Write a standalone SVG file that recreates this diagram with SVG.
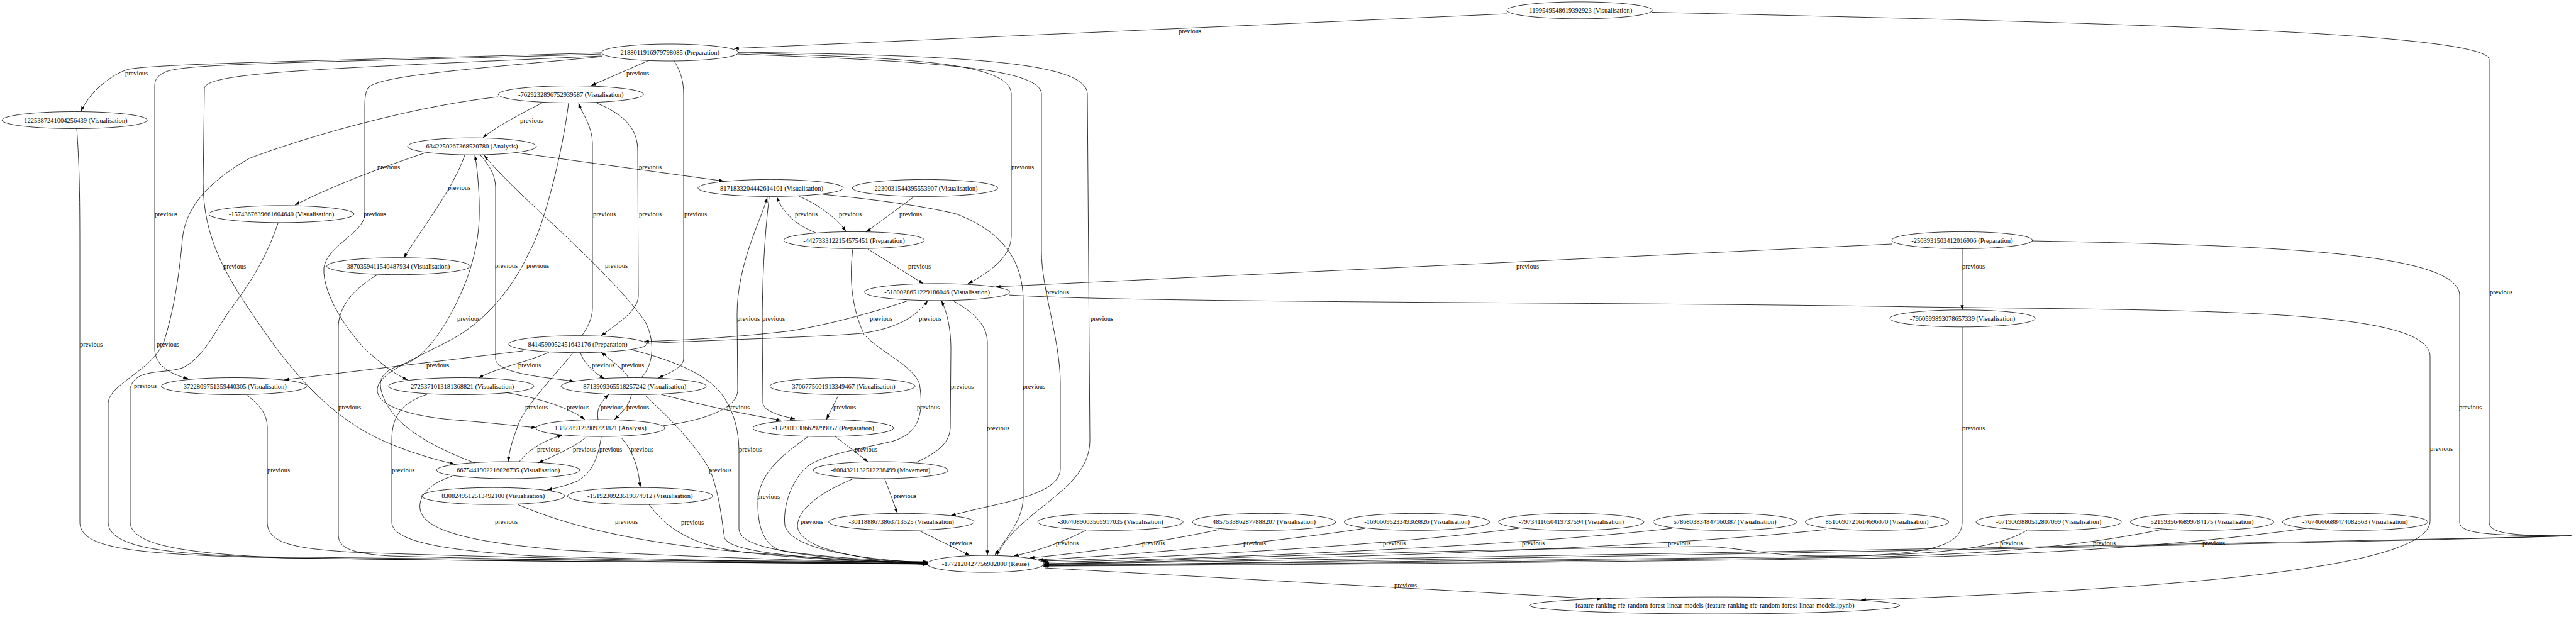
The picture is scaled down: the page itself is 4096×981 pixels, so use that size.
<svg xmlns="http://www.w3.org/2000/svg" width="4096" height="981" viewBox="0 0 4096 981">
<defs>
<marker id="ah" viewBox="0 0 10 7" refX="10" refY="3.5" markerWidth="7.7" markerHeight="5.4" orient="auto" markerUnits="userSpaceOnUse"><path d="M0,0 L10,3.5 L0,7 z" fill="#000"/></marker>
<style>
.n ellipse{fill:none;stroke:#000;stroke-width:0.8}
.n text,.lb text{font-family:"Liberation Serif","Times New Roman",serif;font-size:10.5px;fill:#000;text-anchor:middle}
.e path{fill:none;stroke:#000;stroke-width:0.8;marker-end:url(#ah)}
</style>
</defs>
<rect width="4096" height="981" fill="#fff"/>
<g id="connectors" class="e">
<path d="M2396,22 L1167,77"/>
<path d="M2627,19.5 C3300,35 3958,50 3958,95 L3958,830 C3958,848 3990,852 4090,852 C3800,860 2400,885 1660,897"/>
<path d="M3231,383 C3600,390 3911,400 3911,470 L3911,830 C3911,848 3950,852 4088,852 C3800,862 2400,888 1659,900"/>
<path d="M3120,520 L3120,830 C3120,870 3060,884 2900,884 C2800,884 2760,868 2700,869 C2300,874 1900,888 1660,898"/>
<path d="M1727,843 C1690,862 1650,876 1612,884"/>
<path d="M1938,842 C1850,862 1700,882 1637,887"/>
<path d="M2171,840 C2000,866 1780,884 1651,890"/>
<path d="M2415,840 C2200,868 1850,887 1656,892"/>
<path d="M2659,840 C2400,870 1900,889 1659,894"/>
<path d="M2903,842 C2600,875 2000,891 1660,896"/>
<path d="M3223,843 C3180,870 3100,880 2950,884 C2500,890 1950,896 1660,898"/>
<path d="M3437,842 C3300,870 3150,882 2950,886 C2500,892 1950,898 1660,899"/>
<path d="M3668,840 C3450,870 3200,884 2950,888 C2500,894 1950,899 1659,900"/>
<path d="M1661,903 L2547,952.5"/>
<path d="M1604,469 C1800,482 2600,480 3050,488 C3500,494 3864,490 3864,567 L3864,828 C3864,900 3500,935 2959,954"/>
<path d="M956,84 C600,95 260,100 205,110 C175,118 140,150 129,177"/>
<path d="M1032,96 L940,136"/>
<path d="M956,86 C500,100 300,100 264,114 C246,122 246,130 246,140 L246,555 C246,580 270,595 299,602"/>
<path d="M957,89 C500,110 330,115 325,140 L323,290 C323,380 360,440 414,518 C470,600 520,650 575,683 C620,710 680,728 723,738"/>
<path d="M957,90 C750,110 600,120 585,140 C580,150 580,160 580,175 L580,340 C580,370 520,390 515,426 C512,470 560,540 595,568 C615,585 630,596 648,604"/>
<path d="M1072,97 C1083,115 1087,130 1087,150 L1087,570 C1087,585 1060,595 1047,601"/>
<path d="M1174,84 C1450,92 1608,100 1608,150 L1608,375 C1608,410 1570,435 1539,451"/>
<path d="M1174,86 C1500,98 1656,110 1656,150 L1656,400 C1656,460 1686,540 1686,610 L1686,745 C1686,790 1580,800 1512,820"/>
<path d="M1174,83 C1550,88 1729,100 1729,150 L1733,700 C1733,780 1620,810 1585,883"/>
<path d="M863,163 C840,175 790,200 768,219"/>
<path d="M904,164 C895,240 865,360 842,400 C810,470 760,520 708,545 C650,575 600,595 600,620 C600,645 650,662 727,668 C790,673 830,678 853,680"/>
<path d="M949,164 C1000,185 1014,210 1014,240 L1015,470 C1015,495 980,515 956,534"/>
<path d="M792,154 C650,170 480,220 396,252 C330,290 295,330 290,380 C285,440 275,500 260,545 C240,590 175,610 172,640 L172,830 C172,870 260,880 400,885 C800,890 1200,892 1475,893"/>
<path d="M925,534 C935,520 942,505 942,490 L942,228 C942,200 925,180 920,164"/>
<path d="M122,204 C126,260 127,300 127,400 L127,830 C127,870 200,880 400,886 C800,893 1200,895 1475,894"/>
<path d="M676,243 C620,262 540,290 469,326"/>
<path d="M739,247 C720,300 680,350 642,410"/>
<path d="M764,247 C780,265 788,280 788,300 L788,570 C788,590 840,598 913,606"/>
<path d="M823,243 L1151,288"/>
<path d="M755,736 C700,715 620,680 606,620 C600,595 620,585 648,577 C690,560 730,480 745,436 C760,390 763,360 762,320 C761,290 758,260 755,247"/>
<path d="M1020,600 C1040,580 1042,540 1025,510 C960,420 820,310 770,247"/>
<path d="M1270,312 C1295,322 1330,345 1345,368"/>
<path d="M1297,370 C1270,360 1245,340 1235,313"/>
<path d="M1223,314 C1215,380 1212,450 1212,520 L1213,640 C1213,655 1245,662 1264,666"/>
<path d="M1308,309 C1400,318 1470,328 1520,340 C1600,370 1627,420 1627,480 L1627,790 C1627,830 1595,860 1582,883"/>
<path d="M1054,677 C1120,668 1173,650 1173,620 L1172,500 C1172,420 1210,350 1220,314"/>
<path d="M1453,313 L1377,369"/>
<path d="M1380,396 L1468,451"/>
<path d="M1356,396 C1352,430 1350,480 1374,532 C1400,560 1450,580 1462,610 C1470,660 1460,690 1418,702 C1360,715 1300,725 1280,745 C1255,770 1245,810 1248,835 C1255,870 1350,888 1475,895"/>
<path d="M3008,388 L1583,456"/>
<path d="M3120,395 L3120,493"/>
<path d="M442,355 C420,420 390,460 362,498 C335,540 320,570 290,585 C260,595 215,585 207,617 L207,830 C207,868 300,880 450,887 C850,893 1200,895 1475,896"/>
<path d="M600,437 C560,460 538,490 538,520 L538,850 C538,872 560,880 620,884 C900,892 1200,895 1475,897"/>
<path d="M1444,478 C1380,500 1300,520 1250,527 C1150,538 1080,541 1024,543"/>
<path d="M1028,546 C1150,540 1300,536 1370,530 C1430,522 1460,500 1475,478"/>
<path d="M1457,735 C1490,720 1510,705 1511,680 L1512,555 C1512,520 1505,495 1497,478"/>
<path d="M1517,479 C1545,495 1570,515 1570,545 L1570,883"/>
<path d="M1328,694 L1380,734"/>
<path d="M1285,694 C1250,720 1205,750 1205,800 C1205,840 1215,865 1240,875 C1300,888 1400,892 1475,896"/>
<path d="M1407,762 L1427,816"/>
<path d="M1357,761 C1300,785 1270,810 1268,835 C1268,870 1350,888 1475,898"/>
<path d="M1462,844 L1542,883"/>
<path d="M1333,629 L1314,667"/>
<path d="M1051,627 C1120,645 1190,660 1242,668"/>
<path d="M1004,628 C1000,645 990,655 977,667"/>
<path d="M951,667 C948,650 955,640 968,627"/>
<path d="M804,624 C850,632 900,645 930,667"/>
<path d="M679,627 C640,640 623,660 623,700 L623,830 C623,860 700,875 850,884 C1100,891 1300,894 1475,897"/>
<path d="M392,628 C415,645 425,660 425,680 L425,830 C425,865 470,872 560,878 C900,890 1200,894 1475,896"/>
<path d="M873,560 C840,575 790,585 761,601"/>
<path d="M923,561 C928,575 940,590 961,602"/>
<path d="M999,600 C990,585 970,572 956,560"/>
<path d="M911,561 C880,600 830,650 822,681 C815,700 810,715 808,734"/>
<path d="M831,558 L452,604"/>
<path d="M1004,556 C1080,575 1130,600 1150,630 C1170,660 1175,690 1175,720 L1175,840 C1175,870 1250,885 1475,894"/>
<path d="M1025,628 C1060,660 1110,710 1130,750 C1145,790 1148,830 1152,855 C1160,880 1300,890 1475,895"/>
<path d="M932,695 C915,710 880,725 856,736"/>
<path d="M825,735 C840,715 865,700 894,692"/>
<path d="M956,695 C952,720 945,750 918,765 C900,772 885,776 870,779"/>
<path d="M987,695 C1005,715 1015,740 1018,775"/>
<path d="M719,757 C680,770 665,790 668,810 C675,850 780,865 900,875 C1150,888 1350,893 1475,895"/>
<path d="M823,802 C900,835 1000,860 1150,875 C1300,888 1400,893 1475,896"/>
<path d="M1032,802 C1060,840 1100,870 1200,880 C1300,890 1400,894 1475,897"/>
</g>
<g id="edge-labels" class="lb">
<text x="1892" y="53.3">previous</text>
<text x="3977" y="467.7">previous</text>
<text x="3928" y="651.1">previous</text>
<text x="3138" y="684.1">previous</text>
<text x="1697" y="867.2">previous</text>
<text x="1834" y="867.2">previous</text>
<text x="1995" y="867.2">previous</text>
<text x="2217" y="867.2">previous</text>
<text x="2438" y="867.2">previous</text>
<text x="2670" y="867.2">previous</text>
<text x="3198" y="867.2">previous</text>
<text x="3346" y="867.2">previous</text>
<text x="3520" y="867.2">previous</text>
<text x="1528" y="867.2">previous</text>
<text x="2235" y="933.7">previous</text>
<text x="3882" y="717.4">previous</text>
<text x="3138" y="426.7">previous</text>
<text x="2429" y="426.7">previous</text>
<text x="217" y="120.1">previous</text>
<text x="1014" y="120.1">previous</text>
<text x="845" y="194.6">previous</text>
<text x="618" y="269.1">previous</text>
<text x="1034" y="269.2">previous</text>
<text x="730" y="302.4">previous</text>
<text x="264" y="343.9">previous</text>
<text x="596" y="343.9">previous</text>
<text x="961" y="344.1">previous</text>
<text x="1034" y="344.1">previous</text>
<text x="1106" y="343.9">previous</text>
<text x="1282" y="344.1">previous</text>
<text x="1352" y="344.1">previous</text>
<text x="1448" y="343.9">previous</text>
<text x="1626" y="269.2">previous</text>
<text x="373" y="426.7">previous</text>
<text x="805" y="426.2">previous</text>
<text x="855" y="426.2">previous</text>
<text x="980" y="426.2">previous</text>
<text x="1462" y="426.5">previous</text>
<text x="1681" y="467.7">previous</text>
<text x="745" y="509.5">previous</text>
<text x="1190" y="509.5">previous</text>
<text x="1230" y="509.9">previous</text>
<text x="1401" y="509.7">previous</text>
<text x="1479" y="509.6">previous</text>
<text x="1752" y="509.7">previous</text>
<text x="145" y="550.6">previous</text>
<text x="267" y="551.3">previous</text>
<text x="696" y="584">previous</text>
<text x="842" y="584.2">previous</text>
<text x="959" y="584.2">previous</text>
<text x="1006" y="584.2">previous</text>
<text x="231" y="617.3">previous</text>
<text x="1530" y="617.6">previous</text>
<text x="1644" y="617.5">previous</text>
<text x="556" y="650.6">previous</text>
<text x="853" y="650.9">previous</text>
<text x="919" y="650.9">previous</text>
<text x="973" y="650.9">previous</text>
<text x="1014" y="650.9">previous</text>
<text x="1174" y="650.9">previous</text>
<text x="1343" y="650.9">previous</text>
<text x="1476" y="650.9">previous</text>
<text x="1587" y="684">previous</text>
<text x="872" y="717.6">previous</text>
<text x="929" y="717.6">previous</text>
<text x="971" y="717.6">previous</text>
<text x="1021" y="717.6">previous</text>
<text x="1193" y="717.6">previous</text>
<text x="1377" y="717.6">previous</text>
<text x="443" y="751">previous</text>
<text x="641" y="751">previous</text>
<text x="1145" y="751">previous</text>
<text x="1222" y="792.5">previous</text>
<text x="1439" y="792.4">previous</text>
<text x="805" y="833.3">previous</text>
<text x="996" y="833.3">previous</text>
<text x="1101" y="833.5">previous</text>
<text x="1291" y="833.3">previous</text>
</g>
<g id="nA" class="n"><ellipse cx="2511.6" cy="16.4" rx="115.5" ry="13.5"/><text x="2511.6" y="20">-1199549548619392923 (Visualisation)</text></g>
<g id="nB" class="n"><ellipse cx="1065.2" cy="83.5" rx="109" ry="13.5"/><text x="1065.2" y="87.1">2188011916979798085 (Preparation)</text></g>
<g id="nC" class="n"><ellipse cx="907.8" cy="150" rx="115.5" ry="13.5"/><text x="907.8" y="153.6">-7629232896752939587 (Visualisation)</text></g>
<g id="nD" class="n"><ellipse cx="118.7" cy="191" rx="115.5" ry="13.5"/><text x="118.7" y="194.6">-1225387241004256439 (Visualisation)</text></g>
<g id="nE" class="n"><ellipse cx="750.5" cy="232.7" rx="102.4" ry="13.5"/><text x="750.5" y="236.3">6342250267368520780 (Analysis)</text></g>
<g id="nF" class="n"><ellipse cx="1225.3" cy="298.9" rx="115.5" ry="13.5"/><text x="1225.3" y="302.5">-8171833204442614101 (Visualisation)</text></g>
<g id="nG" class="n"><ellipse cx="1470.8" cy="298.9" rx="115.5" ry="13.5"/><text x="1470.8" y="302.5">-2230031544395553907 (Visualisation)</text></g>
<g id="nH" class="n"><ellipse cx="447.5" cy="340.4" rx="115.5" ry="13.5"/><text x="447.5" y="344">-1574367639661604640 (Visualisation)</text></g>
<g id="nI" class="n"><ellipse cx="1358" cy="381.9" rx="111.8" ry="13.5"/><text x="1358" y="385.5">-4427333122154575451 (Preparation)</text></g>
<g id="nJ" class="n"><ellipse cx="3119.9" cy="381.9" rx="111.8" ry="13.5"/><text x="3119.9" y="385.5">-2503931503412016906 (Preparation)</text></g>
<g id="nK" class="n"><ellipse cx="633.5" cy="423.2" rx="113.9" ry="13.5"/><text x="633.5" y="426.8">3870359411540487934 (Visualisation)</text></g>
<g id="nL" class="n"><ellipse cx="1490.1" cy="464.4" rx="115.5" ry="13.5"/><text x="1490.1" y="468">-5180028651229186046 (Visualisation)</text></g>
<g id="nM" class="n"><ellipse cx="3120.5" cy="506.3" rx="115.5" ry="13.5"/><text x="3120.5" y="509.9">-7960599893078657339 (Visualisation)</text></g>
<g id="nN" class="n"><ellipse cx="918.5" cy="547.2" rx="109.6" ry="13.5"/><text x="918.5" y="550.8">8414590052451643176 (Preparation)</text></g>
<g id="nO" class="n"><ellipse cx="372" cy="614" rx="115.5" ry="13.5"/><text x="372" y="617.6">-3722809751359440305 (Visualisation)</text></g>
<g id="nP" class="n"><ellipse cx="733.4" cy="614" rx="115.5" ry="13.5"/><text x="733.4" y="617.6">-2725371013181368821 (Visualisation)</text></g>
<g id="nQ" class="n"><ellipse cx="1007.5" cy="614" rx="115.5" ry="13.5"/><text x="1007.5" y="617.6">-8713909365518257242 (Visualisation)</text></g>
<g id="nR" class="n"><ellipse cx="1339.7" cy="614" rx="115.5" ry="13.5"/><text x="1339.7" y="617.6">-3706775601913349467 (Visualisation)</text></g>
<g id="nS" class="n"><ellipse cx="954.8" cy="680.6" rx="102.4" ry="13.5"/><text x="954.8" y="684.2">1387289125909723821 (Analysis)</text></g>
<g id="nT" class="n"><ellipse cx="1309" cy="680.6" rx="111.8" ry="13.5"/><text x="1309" y="684.2">-1329017386629299057 (Preparation)</text></g>
<g id="nU" class="n"><ellipse cx="808.1" cy="747.5" rx="113.9" ry="13.5"/><text x="808.1" y="751.1">6675441902216026735 (Visualisation)</text></g>
<g id="nV" class="n"><ellipse cx="1400.2" cy="747.5" rx="107.3" ry="13.5"/><text x="1400.2" y="751.1">-6084321132512238499 (Movement)</text></g>
<g id="nW" class="n"><ellipse cx="784.3" cy="788.7" rx="113.9" ry="13.5"/><text x="784.3" y="792.3">8308249512513492100 (Visualisation)</text></g>
<g id="nX" class="n"><ellipse cx="1017.8" cy="788.7" rx="115.5" ry="13.5"/><text x="1017.8" y="792.3">-1519230923519374912 (Visualisation)</text></g>
<g id="nY1" class="n"><ellipse cx="1433.2" cy="829.8" rx="115.5" ry="13.5"/><text x="1433.2" y="833.4">-3011888673863713525 (Visualisation)</text></g>
<g id="nY2" class="n"><ellipse cx="1765.7" cy="829.8" rx="115.5" ry="13.5"/><text x="1765.7" y="833.4">-3074089003565917035 (Visualisation)</text></g>
<g id="nY3" class="n"><ellipse cx="2010" cy="829.8" rx="113.9" ry="13.5"/><text x="2010" y="833.4">4857533862877888207 (Visualisation)</text></g>
<g id="nY4" class="n"><ellipse cx="2253.1" cy="829.8" rx="115.5" ry="13.5"/><text x="2253.1" y="833.4">-1696609523349369826 (Visualisation)</text></g>
<g id="nY5" class="n"><ellipse cx="2498.4" cy="829.8" rx="115.5" ry="13.5"/><text x="2498.4" y="833.4">-7973411650419737594 (Visualisation)</text></g>
<g id="nY6" class="n"><ellipse cx="2742.5" cy="829.8" rx="113.9" ry="13.5"/><text x="2742.5" y="833.4">5786803834847160387 (Visualisation)</text></g>
<g id="nY7" class="n"><ellipse cx="2984.5" cy="829.8" rx="113.9" ry="13.5"/><text x="2984.5" y="833.4">8516690721614696070 (Visualisation)</text></g>
<g id="nY8" class="n"><ellipse cx="3257.5" cy="829.8" rx="115.5" ry="13.5"/><text x="3257.5" y="833.4">-6719069880512807099 (Visualisation)</text></g>
<g id="nY9" class="n"><ellipse cx="3501.5" cy="829.8" rx="113.9" ry="13.5"/><text x="3501.5" y="833.4">5215935646899784175 (Visualisation)</text></g>
<g id="nY10" class="n"><ellipse cx="3744.8" cy="829.8" rx="115.5" ry="13.5"/><text x="3744.8" y="833.4">-7674666688474082563 (Visualisation)</text></g>
<g id="nZ" class="n"><ellipse cx="1567.1" cy="896.6" rx="93" ry="13.5"/><text x="1567.1" y="900.2">-1772128427756932808 (Reuse)</text></g>
<g id="nFR" class="n"><ellipse cx="2726.6" cy="962.6" rx="294" ry="13.5"/><text x="2726.6" y="966.2">feature-ranking-rfe-random-forest-linear-models (feature-ranking-rfe-random-forest-linear-models.ipynb)</text></g>
</svg>
